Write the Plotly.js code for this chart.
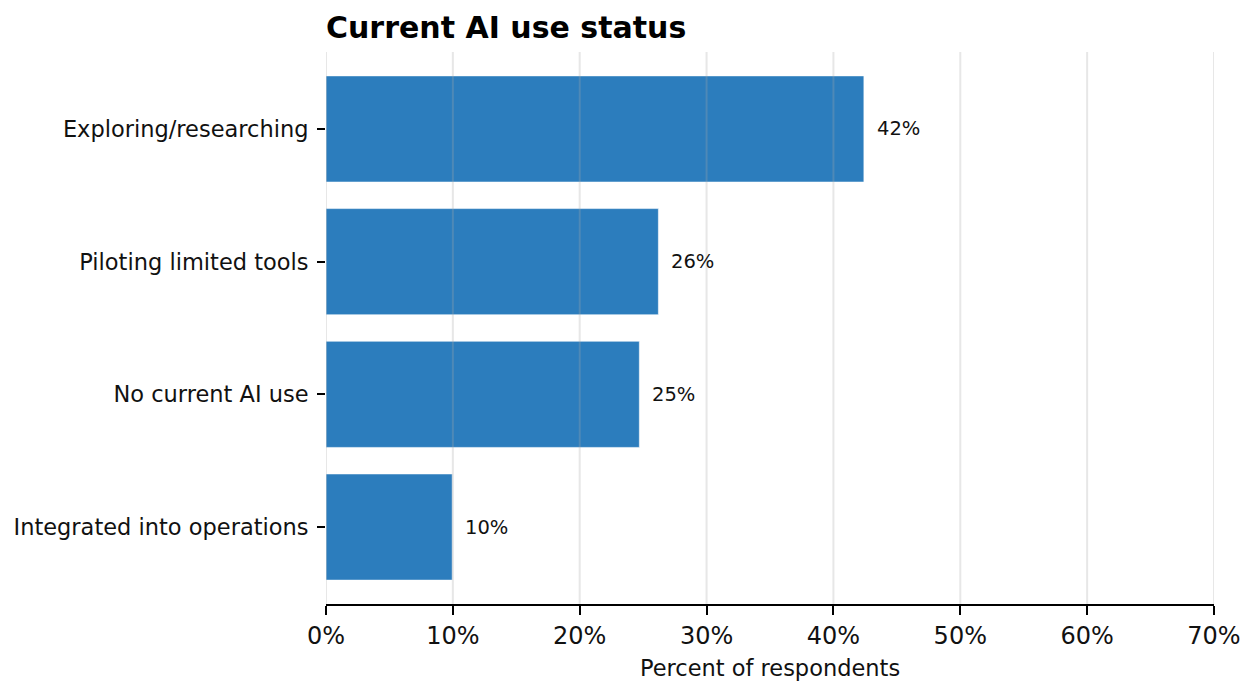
<!DOCTYPE html>
<html>
<head>
<meta charset="utf-8">
<script src="https://cdn.plot.ly/plotly-3.0.1.min.js"></script>
<style>
  html, body { margin: 0; padding: 0; background: #ffffff; }
  #chart { width: 1259px; height: 681px; }
</style>
</head>
<body>
<div id="chart"></div>
<script>
// Survey responses: current AI use status (percent of respondents)
const categories = [
  "Exploring/researching",
  "Piloting limited tools",
  "No current AI use",
  "Integrated into operations"
];
const percents = [42.4, 26.2, 24.7, 9.95];
const tickValues = [0, 10, 20, 30, 40, 50, 60, 70];
const tickLabels = ["0%", "10%", "20%", "30%", "40%", "50%", "60%", "70%"];

const FONT = "DejaVu Sans, Verdana, sans-serif";
const BAR_COLOR = "#2c7dbd";

const barTrace = {
  type: "bar",
  orientation: "h",
  x: percents,
  y: categories,
  width: 0.8,
  marker: {
    color: BAR_COLOR,
    line: { color: "rgba(255,255,255,0.55)", width: 1 }
  },
  hoverinfo: "skip",
  showlegend: false
};

// Value labels just to the right of each bar
const valueLabels = percents.map((v, i) => ({
  x: v,
  y: categories[i],
  xref: "x",
  yref: "y",
  text: Math.round(v) + "%",
  showarrow: false,
  xanchor: "left",
  yanchor: "middle",
  xshift: 11,
  font: { family: FONT, size: 19.5, color: "#111111" }
}));

// Vertical grid lines drawn over the bars, semi-transparent
const gridShapes = tickValues.map(t => ({
  type: "line",
  layer: "above",
  xref: "x",
  yref: "paper",
  x0: t, x1: t,
  y0: 0, y1: 1,
  line: { color: "rgba(170,170,170,0.28)", width: 2 }
}));

const layout = {
  width: 1259,
  height: 681,
  margin: { l: 326, r: 45, t: 52, b: 77, pad: 0 },
  paper_bgcolor: "#ffffff",
  plot_bgcolor: "#ffffff",
  font: { family: FONT, color: "#111111" },
  title: {
    text: "<b>Current AI use status</b>",
    font: { family: FONT, size: 30, color: "#000000" },
    x: 0,
    xref: "paper",
    xanchor: "left",
    y: 1 - 27 / 681,
    yref: "container",
    yanchor: "middle"
  },
  xaxis: {
    range: [0, 70],
    tickvals: tickValues,
    ticktext: tickLabels,
    showgrid: false,
    zeroline: false,
    showline: true,
    linecolor: "#000000",
    linewidth: 2,
    ticks: "outside",
    ticklen: 9,
    tickwidth: 2,
    tickcolor: "#000000",
    tickfont: { family: FONT, size: 24, color: "#111111" },
    title: {
      text: "Percent of respondents",
      font: { family: FONT, size: 22.5, color: "#111111" },
      standoff: 11
    },
    fixedrange: true
  },
  yaxis: {
    type: "category",
    categoryorder: "array",
    categoryarray: categories,
    autorange: false,
    range: [3.58, -0.58],
    showgrid: false,
    zeroline: false,
    showline: false,
    ticks: "outside",
    ticklen: 8,
    tickwidth: 2,
    tickcolor: "#000000",
    ticklabelstandoff: 4,
    tickfont: { family: FONT, size: 22.5, color: "#111111" },
    fixedrange: true
  },
  shapes: gridShapes,
  annotations: valueLabels,
  bargap: 0.2
};

Plotly.newPlot("chart", [barTrace], layout, { displayModeBar: false, staticPlot: true });
</script>
</body>
</html>
